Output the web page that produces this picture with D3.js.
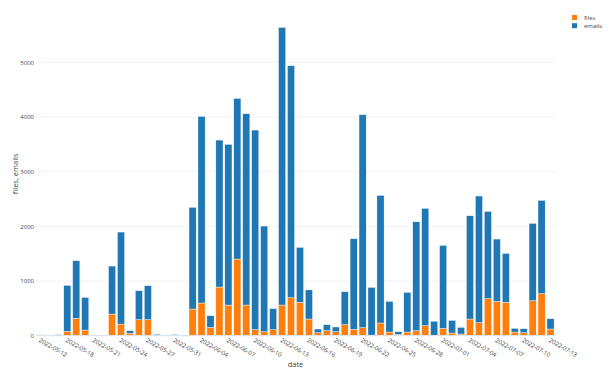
<!DOCTYPE html>
<html>
<head>
<meta charset="utf-8">
<script src="https://cdn.jsdelivr.net/npm/d3@7"></script>
<style>
  body { margin: 0; background: #fff; }
  svg { display: block; font-family: "Open Sans", sans-serif; }
</style>
</head>
<body>
<svg class="chart"></svg>
<script>
// one entry per day that appears on the category axis
const dates = [
  '2022-05-12', '2022-05-16', '2022-05-17', '2022-05-18', '2022-05-19', '2022-05-20',
  '2022-05-21', '2022-05-22', '2022-05-23', '2022-05-24', '2022-05-25', '2022-05-26',
  '2022-05-27', '2022-05-28', '2022-05-29', '2022-05-31', '2022-06-01', '2022-06-02',
  '2022-06-04', '2022-06-05', '2022-06-06', '2022-06-07', '2022-06-08', '2022-06-09',
  '2022-06-10', '2022-06-11', '2022-06-12', '2022-06-13', '2022-06-14', '2022-06-15',
  '2022-06-16', '2022-06-17', '2022-06-18', '2022-06-19', '2022-06-20', '2022-06-21',
  '2022-06-22', '2022-06-23', '2022-06-24', '2022-06-25', '2022-06-26', '2022-06-27',
  '2022-06-28', '2022-06-29', '2022-06-30', '2022-07-01', '2022-07-02', '2022-07-03',
  '2022-07-04', '2022-07-05', '2022-07-06', '2022-07-07', '2022-07-08', '2022-07-09',
  '2022-07-10', '2022-07-11', '2022-07-12', '2022-07-13'
];
const files = [
  3, 0, 10, 79, 317, 104,
  0, 0, 396, 213, 43, 293,
  293, 5, 0, 3, 0, 488,
  598, 152, 890, 561, 1402, 561,
  110, 73, 110, 561, 695, 610,
  305, 55, 91, 73, 201, 116,
  146, 12, 232, 67, 24, 67,
  91, 183, 10, 134, 49, 30,
  305, 238, 677, 628, 610, 67,
  55, 640, 768, 122
];
const emails = [
  12, 0, 10, 842, 1055, 597,
  8, 8, 878, 1683, 48, 530,
  622, 20, 0, 17, 0, 1860,
  3414, 214, 2689, 2939, 2939, 3500,
  3652, 1933, 384, 5079, 4244, 1006,
  533, 67, 110, 86, 604, 1658,
  3897, 872, 2335, 561, 49, 726,
  1994, 2146, 255, 1518, 231, 122,
  1890, 2317, 1597, 1140, 896, 67,
  73, 1415, 1708, 189
];
const series = ['files', 'emails'];
const colors = ['#ff7f0e', '#1f77b4'];
const yTicks = [0, 1000, 2000, 3000, 4000, 5000];

const width = 610, height = 372;
const margin = {top: 12, right: 55, bottom: 36.3, left: 36};
const innerW = width - margin.left - margin.right;
const innerH = height - margin.top - margin.bottom;

const rows = dates.map((d, i) => ({date: d, files: files[i], emails: emails[i]}));
const stacked = d3.stack().keys(series)(rows);

const svg = d3.select('.chart')
  .attr('width', width)
  .attr('height', height);

svg.append('rect').attr('width', width).attr('height', height).attr('fill', '#fff');

const chart = svg.append('g')
  .attr('transform', 'translate(' + margin.left + ',' + margin.top + ')');

const x = d3.scaleBand()
  .domain(dates)
  .range([0, innerW])
  .paddingInner(0.2)
  .paddingOuter(0.1);

const maxTotal = d3.max(rows, d => d.files + d.emails);
const y = d3.scaleLinear()
  .domain([0, maxTotal * 1.05])
  .range([innerH, 0]);

// grid
chart.append('g')
  .selectAll('line')
  .data(yTicks.slice(1))
  .enter().append('line')
  .attr('x1', 0).attr('x2', innerW)
  .attr('y1', d => y(d)).attr('y2', d => y(d))
  .attr('stroke', '#f0f2f6')
  .attr('stroke-width', 1);

// bars
chart.append('g')
  .selectAll('g')
  .data(stacked)
  .enter().append('g')
  .attr('fill', (d, i) => colors[i])
  .selectAll('rect')
  .data(d => d)
  .enter().append('rect')
  .attr('x', d => x(d.data.date))
  .attr('width', x.bandwidth())
  .attr('y', d => y(d[1]))
  .attr('height', d => y(d[0]) - y(d[1]))
  .attr('stroke', '#fff')
  .attr('stroke-width', 0.4);

// zero line
chart.append('line')
  .attr('x1', 0).attr('x2', innerW)
  .attr('y1', y(0)).attr('y2', y(0))
  .attr('stroke', '#dde3ea')
  .attr('stroke-width', 1.2);

// y axis
const yAxis = chart.append('g')
  .call(d3.axisLeft(y).tickValues(yTicks).tickSize(0).tickPadding(2).tickFormat(d3.format('d')));
yAxis.select('.domain').remove();
yAxis.selectAll('text')
  .attr('fill', '#444')
  .style('font-size', '6px')
  .style('font-family', '"Open Sans", sans-serif');

// x axis, every third category labelled
const xAxis = chart.append('g')
  .attr('transform', 'translate(0,' + innerH + ')')
  .call(d3.axisBottom(x).tickValues(dates.filter((d, i) => i % 3 === 0)).tickSize(0));
xAxis.select('.domain').remove();
xAxis.selectAll('text')
  .attr('y', null)
  .attr('dy', '0.35em')
  .attr('text-anchor', 'start')
  .attr('transform', 'translate(-1,4) rotate(30)')
  .attr('fill', '#444')
  .style('font-size', '6px')
  .style('font-family', '"Open Sans", sans-serif');

// axis titles
chart.append('text')
  .attr('x', innerW / 2)
  .attr('y', innerH + 28)
  .attr('text-anchor', 'middle')
  .attr('dominant-baseline', 'central')
  .attr('fill', '#444')
  .style('font-size', '7.5px')
  .text('date');

chart.append('text')
  .attr('transform', 'translate(' + (15 - margin.left) + ',' + (innerH / 2) + ') rotate(-90)')
  .attr('text-anchor', 'middle')
  .attr('dominant-baseline', 'central')
  .attr('fill', '#444')
  .style('font-size', '7.5px')
  .text('files, emails');

// legend
const legend = svg.append('g')
  .attr('transform', 'translate(572,15)')
  .selectAll('g')
  .data(series)
  .enter().append('g')
  .attr('transform', (d, i) => 'translate(0,' + (i * 8.2) + ')');

legend.append('rect')
  .attr('width', 5).attr('height', 5)
  .attr('fill', (d, i) => colors[i]);

legend.append('text')
  .attr('x', 12)
  .attr('y', 2.6)
  .attr('dominant-baseline', 'central')
  .attr('fill', '#444')
  .style('font-size', '6px')
  .text(d => d);
</script>
</body>
</html>
